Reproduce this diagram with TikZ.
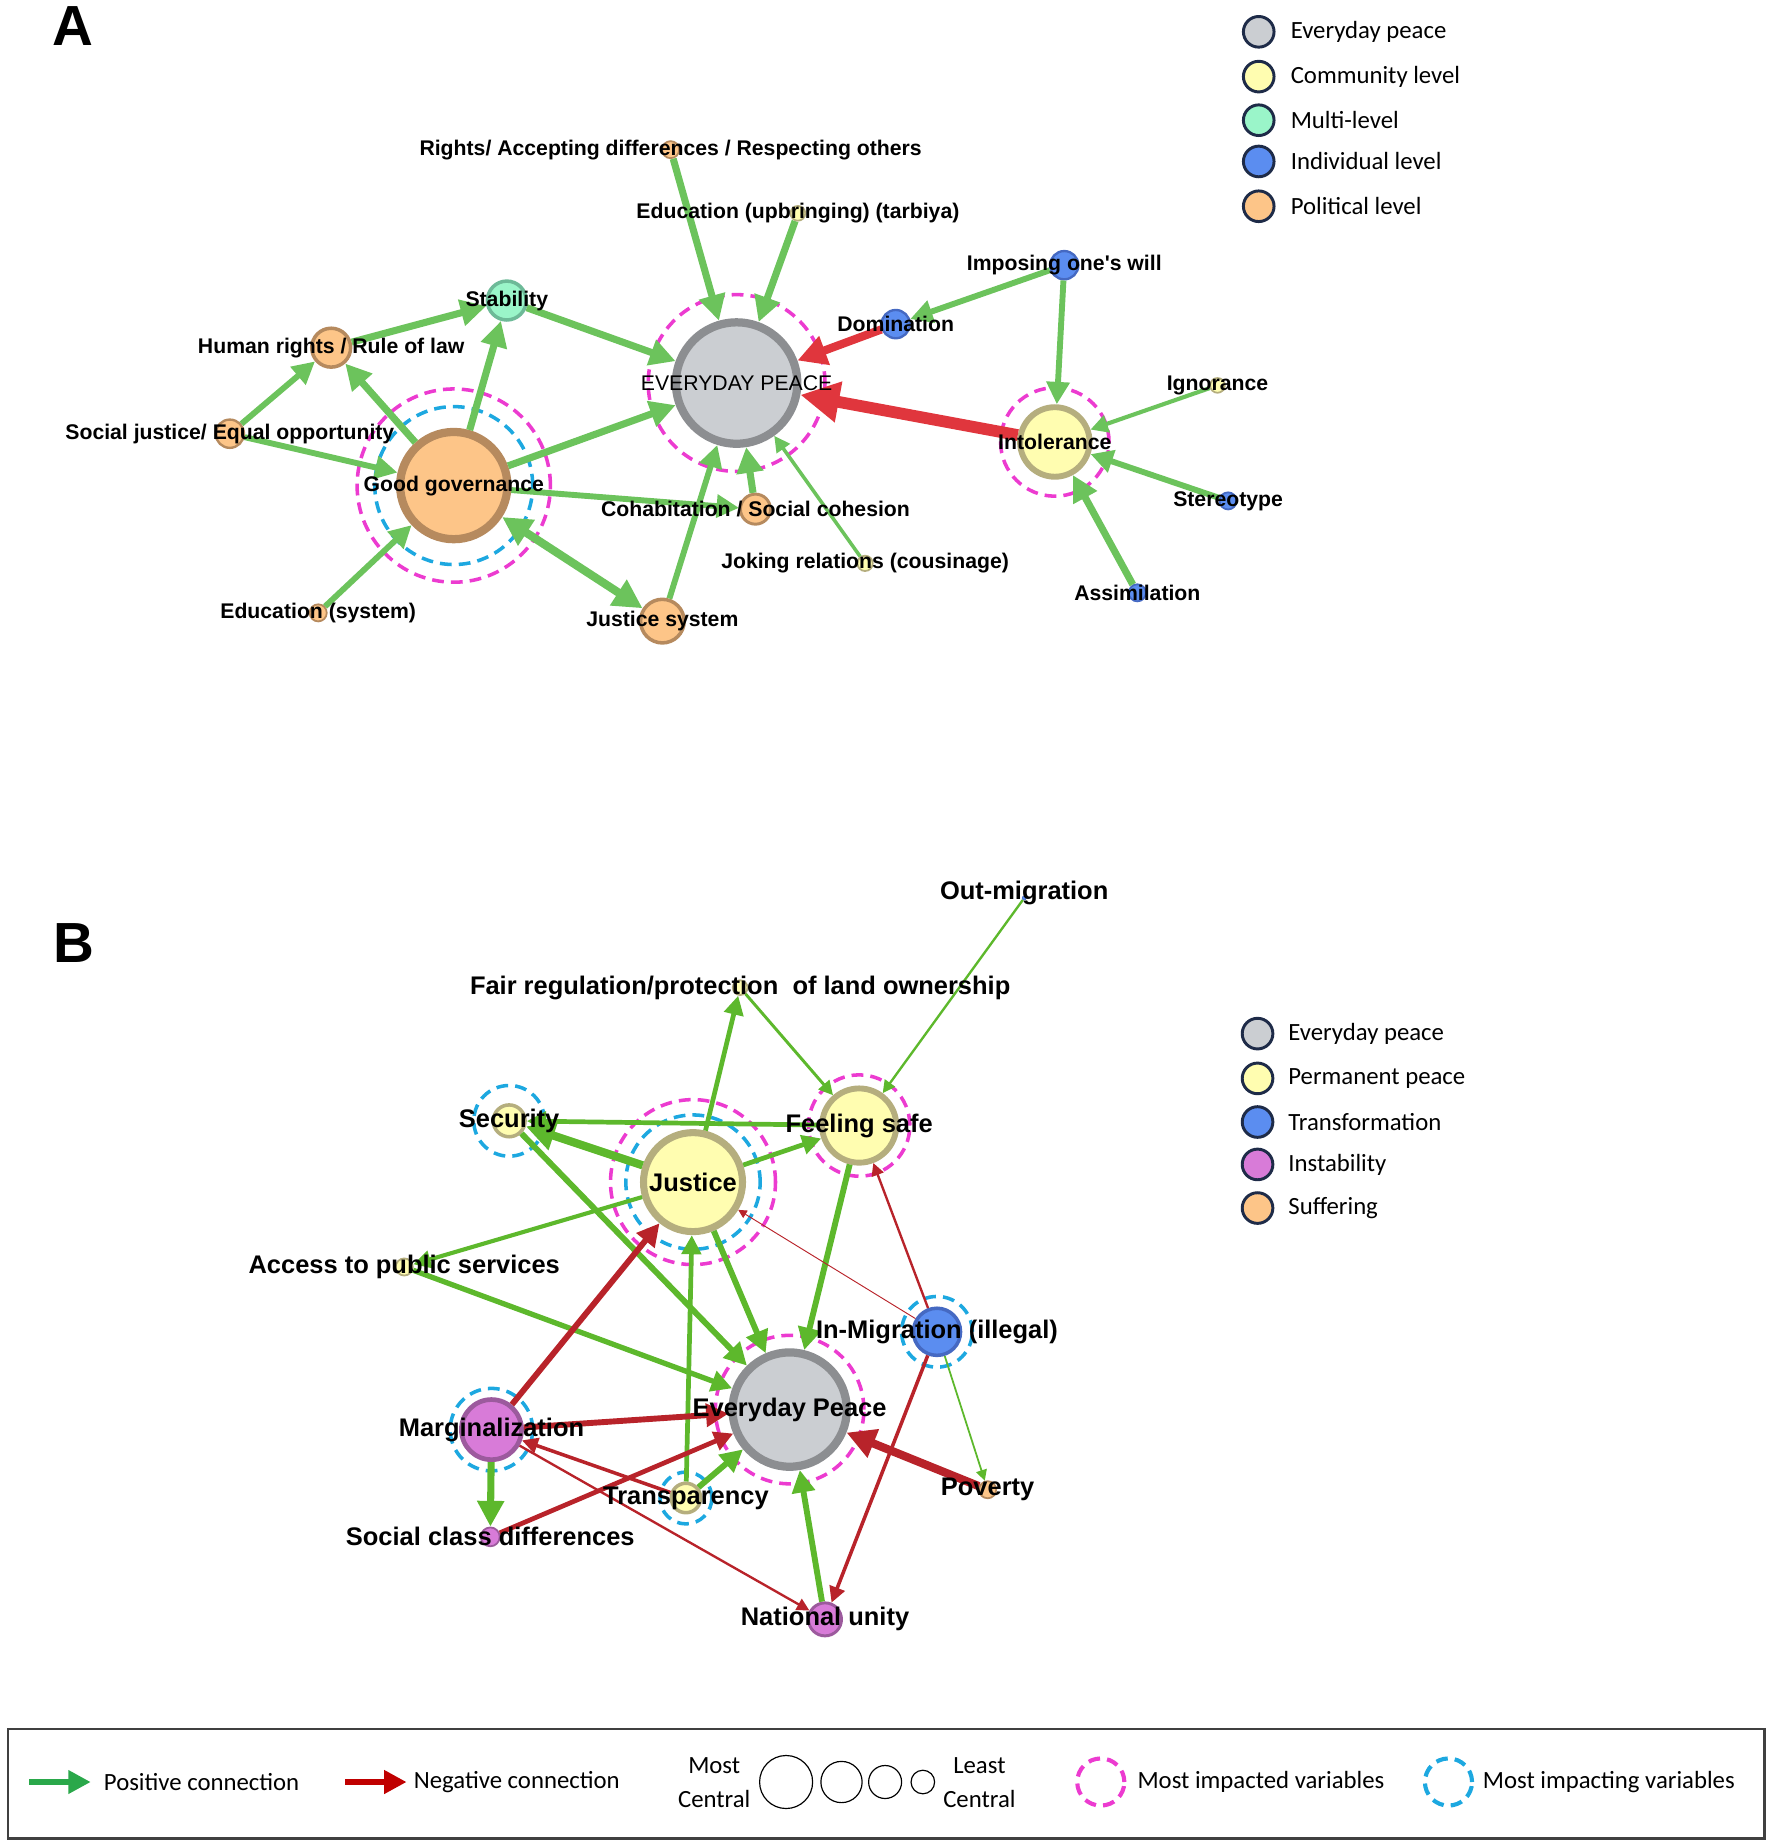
\documentclass[tikz,border=0pt]{standalone}
\usepackage{fontspec}
\setmainfont{Liberation Sans}
\newfontfamily\legendfont{Carlito}
\usetikzlibrary{arrows.meta}

\definecolor{epfill}{HTML}{CBCED2}
\definecolor{epdraw}{HTML}{8C8E91}
\definecolor{yelfill}{HTML}{FFFDB0}
\definecolor{yeldraw}{HTML}{B5AE7E}
\definecolor{orafill}{HTML}{FDC588}
\definecolor{oradraw}{HTML}{B68A5E}
\definecolor{mintfill}{HTML}{9AF5C9}
\definecolor{mintdraw}{HTML}{6DBA98}
\definecolor{blufill}{HTML}{5B8DF0}
\definecolor{bludraw}{HTML}{4569C2}
\definecolor{purfill}{HTML}{D87BD8}
\definecolor{purdraw}{HTML}{9C5A9D}
\definecolor{greenA}{HTML}{6CC35C}
\definecolor{redA}{HTML}{E0363D}
\definecolor{greenB}{HTML}{5DB82C}
\definecolor{redB}{HTML}{B8232A}
\definecolor{ringmag}{HTML}{EC3BD0}
\definecolor{ringblu}{HTML}{1DA8E0}
\definecolor{legline}{HTML}{1E2B48}
\definecolor{legpos}{HTML}{2AA84A}
\definecolor{legneg}{HTML}{C00000}

\tikzset{
  var/.style={circle, draw, inner sep=0pt},
  epvar/.style={var, fill=epfill, draw=epdraw},
  yelvar/.style={var, fill=yelfill, draw=yeldraw},
  oravar/.style={var, fill=orafill, draw=oradraw},
  mintvar/.style={var, fill=mintfill, draw=mintdraw},
  bluvar/.style={var, fill=blufill, draw=bludraw},
  purvar/.style={var, fill=purfill, draw=purdraw},
  impacted/.style={draw=ringmag, line width=3pt, dash pattern=on 10pt off 6pt},
  impacting/.style={draw=ringblu, line width=3pt, dash pattern=on 10pt off 6pt},
  posA/.style={->, draw=greenA},
  negA/.style={->, draw=redA},
  posB/.style={->, draw=greenB},
  negB/.style={->, draw=redB},
  lblA/.style={font=\bfseries\fontsize{18}{20}\selectfont, inner sep=0pt},
  lblB/.style={font=\bfseries\fontsize{21.6}{24}\selectfont, inner sep=0pt},
  legtxt/.style={font=\legendfont\fontsize{21}{24}\selectfont, inner sep=0pt, anchor=west},
  legdot/.style={circle, draw=legline, line width=2.5pt, minimum size=26pt, inner sep=0pt},
  sizedot/.style={circle, draw=black, line width=1pt, inner sep=0pt},
  panel/.style={font=\bfseries\fontsize{48}{50}\selectfont, inner sep=0pt},
}

\begin{document}
\begin{tikzpicture}[x=1pt, y=-1pt, >={Triangle[length=5pt 2.8, width=5pt 2.8]}]
  \useasboundingbox (0,0) rectangle (1504,1568);

  % Panel letters
  \node[panel] (panA) at (62,22) {A};
  \node[panel] (panB) at (63,800) {B};

  % Panel A variables
  \node[epvar, minimum size=103pt, line width=7pt] (epA) at (625,325) {};
  \node[oravar, minimum size=91pt, line width=7pt] (gov) at (385,412) {};
  \node[mintvar, minimum size=33pt, line width=3pt] (stab) at (430,255) {};
  \node[oravar, minimum size=33pt, line width=3pt] (hrights) at (281,295) {};
  \node[oravar, minimum size=24pt, line width=2pt] (sjust) at (195,368) {};
  \node[oravar, minimum size=14.5pt, line width=1.5pt] (edusys) at (270,520) {};
  \node[oravar, minimum size=37pt, line width=3pt] (jsys) at (562,527) {};
  \node[oravar, minimum size=25.5pt, line width=2.5pt] (cohab) at (641,432) {};
  \node[yelvar, minimum size=13pt, line width=1.5pt] (joking) at (734,478) {};
  \node[oravar, minimum size=14.5pt, line width=1.5pt] (rights) at (569,127) {};
  \node[yelvar, minimum size=12.5pt, line width=1.5pt] (eduup) at (677,181) {};
  \node[bluvar, minimum size=24pt, line width=2pt] (domin) at (760,275) {};
  \node[bluvar, minimum size=24pt, line width=2pt] (imposing) at (903,225) {};
  \node[yelvar, minimum size=59pt, line width=5pt] (intol) at (895,375) {};
  \node[yelvar, minimum size=12.5pt, line width=1.5pt] (ignor) at (1033,327) {};
  \node[bluvar, minimum size=14.5pt, line width=1.5pt] (stereo) at (1042,425) {};
  \node[bluvar, minimum size=14.5pt, line width=1.5pt] (assim) at (965,503) {};

  % Panel A rings
  \draw[impacted] (epA) circle[radius=75pt];
  \draw[impacted] (gov) circle[radius=82pt];
  \draw[impacting] (gov) circle[radius=67pt];
  \draw[impacted] (intol) circle[radius=46pt];

  % Panel A connections
  \draw[posA, line width=6pt] (rights) -- (epA);
  \draw[posA, line width=6pt] (eduup) -- (epA);
  \draw[posA, line width=6pt] (stab) -- (epA);
  \draw[posA, line width=6pt] (gov) -- (epA);
  \draw[posA, line width=6pt] (gov) -- (stab);
  \draw[posA, line width=6pt] (gov) -- (hrights);
  \draw[posA, line width=6pt] (hrights) -- (stab);
  \draw[posA, line width=5pt] (sjust) -- (hrights);
  \draw[posA, line width=5pt] (sjust) -- (gov);
  \draw[posA, line width=5pt] (edusys) -- (gov);
  \draw[posA, <->, line width=7pt] (gov) -- (jsys);
  \draw[posA, line width=5pt] (jsys) -- (epA);
  \draw[posA, line width=5pt] (gov) -- (cohab);
  \draw[posA, line width=6pt] (cohab) -- (epA);
  \draw[posA, line width=3pt] (joking) -- (epA);
  \draw[negA, line width=7pt] (domin) -- (epA);
  \draw[negA, line width=10pt] (intol) -- (epA);
  \draw[posA, line width=5pt] (imposing) -- (domin);
  \draw[posA, line width=5pt] (imposing) -- (intol);
  \draw[posA, line width=3.5pt] (ignor) -- (intol);
  \draw[posA, line width=5pt] (stereo) -- (intol);
  \draw[posA, line width=6pt] (assim) -- (intol);

  % Panel A labels
  \node[font=\fontsize{18}{20}\selectfont, inner sep=0pt] (epA-t) at (epA) {EVERYDAY PEACE};
  \node[lblA] (gov-t) at (gov) {Good governance};
  \node[lblA] (stab-t) at (stab) {Stability};
  \node[lblA] (hrights-t) at (hrights) {Human rights / Rule of law};
  \node[lblA] (sjust-t) at (sjust) {Social justice/ Equal opportunity};
  \node[lblA] (edusys-t) at (edusys) {Education (system)};
  \node[lblA] (jsys-t) at (jsys) {Justice system};
  \node[lblA] (cohab-t) at (cohab) {Cohabitation / Social cohesion};
  \node[lblA] (joking-t) at (joking) {Joking relations (cousinage)};
  \node[lblA] (rights-t) at (rights) {Rights/ Accepting differences / Respecting others};
  \node[lblA] (eduup-t) at (eduup) {Education (upbringing) (tarbiya)};
  \node[lblA] (domin-t) at (domin) {Domination};
  \node[lblA] (imposing-t) at (imposing) {Imposing one\textquotesingle s will};
  \node[lblA] (intol-t) at (intol) {Intolerance};
  \node[lblA] (ignor-t) at (ignor) {Ignorance};
  \node[lblA] (stereo-t) at (stereo) {Stereotype};
  \node[lblA] (assim-t) at (assim) {Assimilation};

  % Panel A legend
  \node[legdot, fill=epfill] (legA1) at (1068,27) {};
  \node[legdot, fill=yelfill] (legA2) at (1068,65) {};
  \node[legdot, fill=mintfill] (legA3) at (1068,102) {};
  \node[legdot, fill=blufill] (legA4) at (1068,137) {};
  \node[legdot, fill=orafill] (legA5) at (1068,175) {};
  \node[legtxt] (legA1-t) at (1095,27) {Everyday peace};
  \node[legtxt] (legA2-t) at (1095,65) {Community level};
  \node[legtxt] (legA3-t) at (1095,102) {Multi-level};
  \node[legtxt] (legA4-t) at (1095,137) {Individual level};
  \node[legtxt] (legA5-t) at (1095,175) {Political level};

  % Panel B variables
  \node[epvar, minimum size=97pt, line width=7pt] (epB) at (670,1196) {};
  \node[yelvar, minimum size=84pt, line width=6pt] (justice) at (588,1003) {};
  \node[yelvar, minimum size=63pt, line width=5pt] (safe) at (729,955) {};
  \node[yelvar, minimum size=27pt, line width=3pt] (secur) at (432,951) {};
  \node[yelvar, minimum size=12.5pt, line width=1.5pt] (land) at (628,838) {};
  \node[bluvar, minimum size=3.5pt, line width=0.5pt] (outmig) at (869,762) {};
  \node[yelvar, minimum size=14.5pt, line width=1.5pt] (access) at (343,1075) {};
  \node[bluvar, minimum size=40pt, line width=3pt] (inmig) at (795,1130) {};
  \node[purvar, minimum size=51pt, line width=4pt] (margin) at (417,1213) {};
  \node[yelvar, minimum size=25pt, line width=3pt] (transp) at (582,1271) {};
  \node[purvar, minimum size=16pt, line width=1.5pt] (social) at (416,1304) {};
  \node[oravar, minimum size=14.5pt, line width=1.5pt] (poverty) at (838,1264) {};
  \node[purvar, minimum size=28pt, line width=2.5pt] (unity) at (700,1374) {};

  % Panel B rings
  \draw[impacted] (epB) circle[radius=63pt];
  \draw[impacted] (justice) circle[radius=70pt];
  \draw[impacting] (justice) circle[radius=57pt];
  \draw[impacted] (safe) circle[radius=43pt];
  \draw[impacting] (secur) circle[radius=30pt];
  \draw[impacting] (inmig) circle[radius=30pt];
  \draw[impacting] (margin) circle[radius=35pt];
  \draw[impacting] (transp) circle[radius=22pt];

  % Panel B connections
  \draw[posB, line width=4pt] (justice) -- (land);
  \draw[posB, line width=2.5pt] (land) -- (safe);
  \draw[posB, line width=2pt] (outmig) -- (safe);
  \draw[posB, line width=4pt] (safe) -- (secur);
  \draw[posB, line width=7pt] (justice) -- (secur);
  \draw[posB, line width=4pt] (justice) -- (safe);
  \draw[posB, line width=3.5pt] (justice) -- (access);
  \draw[posB, line width=4.5pt] (access) -- (epB);
  \draw[posB, line width=5pt] (secur) -- (epB);
  \draw[posB, line width=5pt] (justice) -- (epB);
  \draw[posB, line width=5pt] (safe) -- (epB);
  \draw[negB, line width=0.8pt] (inmig) -- (justice);
  \draw[negB, line width=2pt] (inmig) -- (safe);
  \draw[posB, line width=1.5pt] (inmig) -- (poverty);
  \draw[negB, line width=3pt] (inmig) -- (unity);
  \draw[negB, line width=7pt] (poverty) -- (epB);
  \draw[posB, line width=5pt] (unity) -- (epB);
  \draw[posB, line width=4pt] (transp) -- (justice);
  \draw[posB, line width=5pt] (transp) -- (epB);
  \draw[negB, line width=3pt] (transp) -- (margin);
  \draw[negB, line width=2pt] (margin) -- (unity);
  \draw[negB, line width=5pt] (margin) -- (justice);
  \draw[negB, line width=5pt] (margin) -- (epB);
  \draw[posB, line width=6pt] (margin) -- (social);
  \draw[negB, line width=4pt] (social) -- (epB);

  % Panel B labels
  \node[lblB] (epB-t) at (epB) {Everyday Peace};
  \node[lblB] (justice-t) at (justice) {Justice};
  \node[lblB] (safe-t) at (safe) {Feeling safe};
  \node[lblB] (secur-t) at (secur) {Security};
  \node[lblB] (land-t) at (land) {Fair regulation/protection\ \ of land ownership};
  \node[lblB] (outmig-t) at (869,758) {Out-migration};
  \node[lblB] (access-t) at (access) {Access to public services};
  \node[lblB] (inmig-t) at (inmig) {In-Migration (illegal)};
  \node[lblB] (margin-t) at (margin) {Marginalization};
  \node[lblB] (transp-t) at (transp) {Transparency};
  \node[lblB] (social-t) at (social) {Social class differences};
  \node[lblB] (poverty-t) at (poverty) {Poverty};
  \node[lblB] (unity-t) at (unity) {National unity};

  % Panel B legend
  \node[legdot, fill=epfill] (legB1) at (1067,877) {};
  \node[legdot, fill=yelfill] (legB2) at (1067,915) {};
  \node[legdot, fill=blufill] (legB3) at (1067,952) {};
  \node[legdot, fill=purfill] (legB4) at (1067,988) {};
  \node[legdot, fill=orafill] (legB5) at (1067,1025) {};
  \node[legtxt] (legB1-t) at (1093,877) {Everyday peace};
  \node[legtxt] (legB2-t) at (1093,915) {Permanent peace};
  \node[legtxt] (legB3-t) at (1093,952) {Transformation};
  \node[legtxt] (legB4-t) at (1093,988) {Instability};
  \node[legtxt] (legB5-t) at (1093,1025) {Suffering};

  % Bottom key
  \draw[draw=black!75, line width=2pt] (7,1467) rectangle (1497,1560);
  \coordinate (posS) at (25,1512);
  \coordinate (posE) at (77,1512);
  \coordinate (negS) at (293,1512);
  \coordinate (negE) at (345,1512);
  \draw[->, draw=legpos, line width=5pt] (posS) -- (posE);
  \draw[->, draw=legneg, line width=5pt] (negS) -- (negE);
  \node[legtxt] (keypos) at (88,1512) {Positive connection};
  \node[legtxt] (keyneg) at (351,1512) {Negative connection};
  \node[legtxt, anchor=center] (keymost) at (606,1498) {Most};
  \node[legtxt, anchor=center] (keymostc) at (606,1526) {Central};
  \node[sizedot, minimum size=45pt] (size1) at (667,1512) {};
  \node[sizedot, minimum size=35pt] (size2) at (714,1512) {};
  \node[sizedot, minimum size=28pt] (size3) at (751,1512) {};
  \node[sizedot, minimum size=20pt] (size4) at (783,1512) {};
  \node[legtxt, anchor=center] (keyleast) at (831,1498) {Least};
  \node[legtxt, anchor=center] (keyleastc) at (831,1526) {Central};
  \node[circle, minimum size=40pt, impacted, line width=3.5pt] (keymag) at (934,1512) {};
  \node[legtxt] (keymag-t) at (965,1512) {Most impacted variables};
  \node[circle, minimum size=40pt, impacting, line width=3.5pt] (keyblu) at (1229,1512) {};
  \node[legtxt] (keyblu-t) at (1258,1512) {Most impacting variables};
\end{tikzpicture}
\end{document}
